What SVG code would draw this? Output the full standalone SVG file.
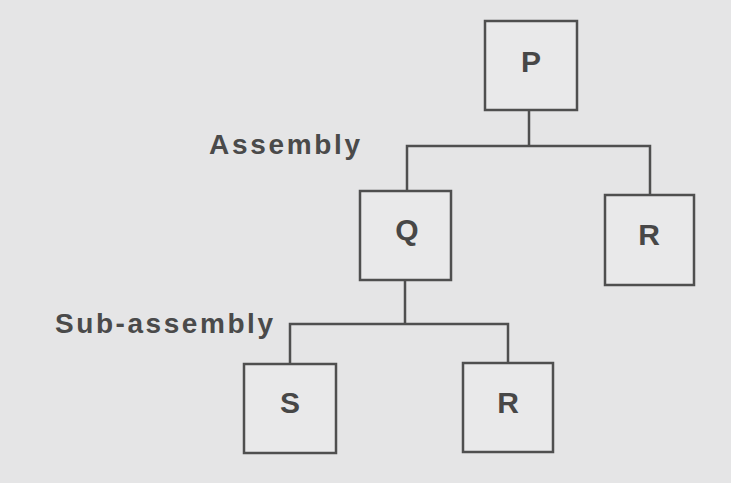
<svg xmlns="http://www.w3.org/2000/svg" width="731" height="483" viewBox="0 0 731 483">
<style>
.box{fill:#e9e9ea;stroke:#4f4f4f;stroke-width:2.5}
.lbl{font-family:"Liberation Sans",Arial,sans-serif;font-weight:bold;font-size:30px;fill:#474747;text-anchor:middle}
.cap{font-family:"Liberation Sans",Arial,sans-serif;font-weight:bold;font-size:28px;fill:#4a4a4a}
.con{fill:none;stroke:#4f4f4f;stroke-width:2.5}
</style>
<rect width="731" height="483" fill="#e5e5e6"/>
<g id="connectors">
<path class="con" d="M529 110 V146 M407 191 V146 H650 V195"/>
<path class="con" d="M405 280 V324 M290 364 V324 H508 V363"/>
</g>
<g id="P"><rect class="box" x="485" y="21" width="92" height="89"/><text class="lbl" x="531" y="72">P</text></g>
<g id="Q"><rect class="box" x="360" y="191" width="91" height="89"/><text class="lbl" x="407" y="240">Q</text></g>
<g id="R1"><rect class="box" x="605" y="195" width="89" height="90"/><text class="lbl" x="649" y="245">R</text></g>
<g id="S"><rect class="box" x="244" y="364" width="92" height="89"/><text class="lbl" x="290" y="413">S</text></g>
<g id="R2"><rect class="box" x="463" y="363" width="90" height="89"/><text class="lbl" x="508" y="413">R</text></g>
<g id="labels">
<text class="cap" x="209" y="154" textLength="151" lengthAdjust="spacing">Assembly</text>
<text class="cap" x="55" y="333" textLength="218" lengthAdjust="spacing">Sub-assembly</text>
</g>
</svg>
